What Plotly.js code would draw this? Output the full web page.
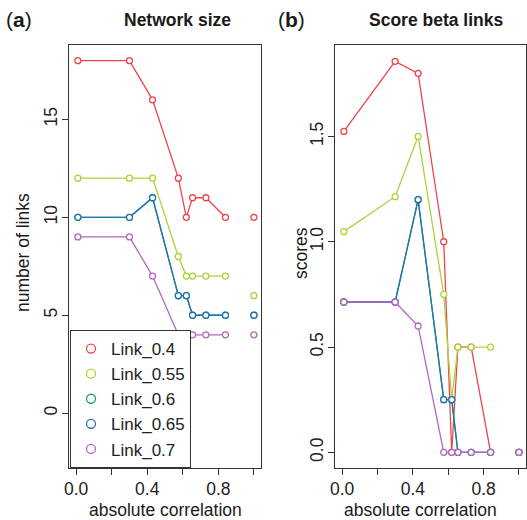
<!DOCTYPE html>
<html>
<head>
<meta charset="utf-8">
<script src="https://cdn.plot.ly/plotly-3.0.1.min.js"></script>
<style>html,body{margin:0;padding:0;background:#fff}#chart{width:527px;height:520px}</style>
</head>
<body>
<div id="chart"></div>
<script>
// absolute correlation thresholds (0.92 is a missing step: breaks the lines)
var corr = [0.01, 0.3, 0.43, 0.575, 0.62, 0.655, 0.73, 0.84, 0.92, 1.0];
var seriesNames = ["Link_0.4", "Link_0.55", "Link_0.6", "Link_0.65", "Link_0.7"];
var seriesColors = ["#F0434C", "#ADD23A", "#1FA463", "#2271B5", "#B268C0"];

// (a) Network size: number of links
var size_0_4  = [18, 18, 16, 12, 10, 11, 11, 10, null, 10];
var size_0_55 = [12, 12, 12, 8, 7, 7, 7, 7, null, 6];
var size_0_6  = [10, 10, 11, 6, 6, 5, 5, 5, null, 5];
var size_0_65 = [10, 10, 11, 6, 6, 5, 5, 5, null, 5];
var size_0_7  = [9, 9, 7, 4, 4, 4, 4, 4, null, 4];

// (b) Score beta links
var score_0_4  = [1.524, 1.857, 1.8, 1.0, 0, 0.5, 0.5, 0, null, 0];
var score_0_55 = [1.048, 1.214, 1.5, 0.75, 0.25, 0.5, 0.5, 0.5, null, 0];
var score_0_6  = [0.714, 0.714, 1.2, 0.25, 0.25, 0, 0, 0, null, 0];
var score_0_65 = [0.714, 0.714, 1.2, 0.25, 0.25, 0, 0, 0, null, 0];
var score_0_7  = [0.714, 0.714, 0.6, 0, 0, 0, 0, 0, null, 0];

var xTickVals = [0, 0.2, 0.4, 0.6, 0.8, 1.0];
var xTickText = ["0.0", "", "0.4", "", "0.8", ""];
var y1TickVals = [0, 5, 10, 15];
var y2TickVals = [0, 0.5, 1.0, 1.5];
var y2TickText = ["0.0", "0.5", "1.0", "1.5"];

var FONT = "Liberation Sans, Arial, Helvetica, sans-serif";
var sizes = [size_0_4, size_0_55, size_0_6, size_0_65, size_0_7];
var scores = [score_0_4, score_0_55, score_0_6, score_0_65, score_0_7];

var traces = [];
function addSeries(ys, i, xa, ya) {
  traces.push({
    x: corr, y: ys, xaxis: xa, yaxis: ya, type: "scatter", mode: "lines+markers",
    connectgaps: false, showlegend: false, hoverinfo: "skip",
    line: {color: seriesColors[i], width: 1.3},
    marker: {symbol: "circle", size: 6, color: "#ffffff", line: {color: seriesColors[i], width: 1.3}}
  });
}
for (var i = 0; i < 5; i++) addSeries(sizes[i], i, "x", "y");
for (var j = 0; j < 5; j++) addSeries(scores[j], j, "x2", "y2");
// legend entries (markers only, as in the original legend)
for (var k = 0; k < 5; k++) {
  traces.push({
    x: [null], y: [null], xaxis: "x", yaxis: "y", type: "scatter", mode: "markers",
    name: seriesNames[k], showlegend: true,
    marker: {symbol: "circle-open", size: 9, color: seriesColors[k], line: {width: 1.3}}
  });
}

var axisCommon = {
  showgrid: false, zeroline: false, showline: true, mirror: true,
  linecolor: "#333", linewidth: 1, ticks: "outside", ticklen: 6, tickcolor: "#333",
  tickfont: {family: FONT, size: 17.5, color: "#222"}, fixedrange: true
};
function ax(extra) { return Object.assign({}, axisCommon, extra); }

function ann(text, x, y, size, angle) {
  return {text: text, x: x/527, y: (520 - y)/520, xref: "paper", yref: "paper",
          xanchor: "center", yanchor: "middle", showarrow: false, textangle: angle || 0,
          font: {family: FONT, size: size, color: "#1a1a1a"}};
}

var layout = {
  width: 527, height: 520,
  margin: {l: 0, r: 0, t: 0, b: 0},
  paper_bgcolor: "#fff", plot_bgcolor: "#fff",
  font: {family: FONT, color: "#222"},
  xaxis: ax({domain: [69/527, 261/527], range: [-0.04, 1.04], tickmode: "array",
             tickvals: xTickVals, ticktext: xTickText, ticklabelstandoff: -1, anchor: "y"}),
  yaxis: ax({domain: [52/520, 475/520], range: [-2.8, 18.8], tickmode: "array",
             tickvals: y1TickVals, ticktext: y1TickVals.map(String), tickangle: -90,
             ticklabelstandoff: -2, anchor: "x"}),
  xaxis2: ax({domain: [335/527, 526/527], range: [-0.04, 1.04], tickmode: "array",
              tickvals: xTickVals, ticktext: xTickText, ticklabelstandoff: -1, anchor: "y2"}),
  yaxis2: ax({domain: [52/520, 475/520], range: [-0.0744, 1.9344], tickmode: "array",
              tickvals: y2TickVals, ticktext: y2TickText, tickangle: -90,
              ticklabelstandoff: -2, anchor: "x2"}),
  legend: {x: 70/527, y: 52/520, xanchor: "left", yanchor: "bottom",
           bgcolor: "#fff", bordercolor: "#333", borderwidth: 1,
           font: {family: FONT, size: 17, color: "#222"}, tracegroupgap: 0,
           itemclick: false, itemdoubleclick: false},
  annotations: [
    ann("(<b>a</b>)", 19, 20, 21),
    ann("<b>Network size</b>", 177, 20, 17.5),
    ann("(<b>b</b>)", 291, 20, 21),
    ann("<b>Score beta links</b>", 436, 20, 17.5),
    ann("number of links", 23, 253, 17.5, -90),
    ann("scores", 301, 253, 17.5, -90),
    ann("absolute correlation", 165, 510, 17.5),
    ann("absolute correlation", 420, 510, 17.5)
  ]
};

Plotly.newPlot("chart", traces, layout, {displayModeBar: false, staticPlot: true});
</script>
</body>
</html>
